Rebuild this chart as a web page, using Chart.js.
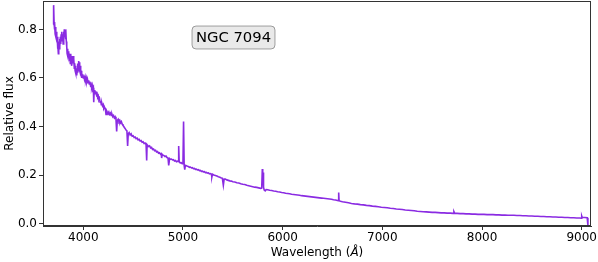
<!DOCTYPE html>
<html><head><meta charset="utf-8">
<script src="https://cdn.jsdelivr.net/npm/chart.js@4"></script>
<style>html,body{margin:0;padding:0;background:#fff}#wrap{width:598px;height:262px;position:relative}</style>
</head><body><div id="wrap"><canvas id="c" width="598" height="262"></canvas></div>
<script>
// ---- data ----
const wavelength = [
3698,3701,3704,3707,3710,3714,3718,3722,3726,3730,3734,3738,3742,3746,3750,3754,3758,3762,3766,3770,
3774,3778,3782,3786,3790,3794,3798,3802,3806,3810,3814,3818,3822,3826,3830,3834,3838,3842,3846,3850,
3854,3858,3862,3866,3870,3874,3878,3882,3886,3890,3894,3898,3902,3906,3910,3914,3918,3922,3926,3930,
3934,3938,3942,3946,3950,3954,3958,3962,3966,3970,3974,3978,3982,3986,3990,3995,4000,4006,4012,4018,
4024,4030,4036,4042,4048,4054,4060,4066,4072,4078,4084,4090,4096,4101,4105,4109,4115,4121,4127,4133,
4139,4145,4151,4157,4163,4169,4175,4181,4187,4193,4200,4206,4212,4222,4228,4234,4240,4248,4256,4264,
4272,4280,4288,4296,4304,4312,4320,4328,4335,4341,4350,4358,4366,4374,4382,4390,4398,4406,4414,4422,
4430,4438,4445,4451,4460,4470,4480,4490,4500,4510,4520,4530,4540,4550,4560,4570,4580,4590,4600,4610,
4620,4630,4636,4640,4645,4655,4665,4675,4685,4695,4705,4715,4725,4735,4745,4755,4765,4775,4782,4786,
4792,4800,4810,4820,4830,4840,4850,4857,4866,4875,4885,4895,4905,4915,4925,4935,4945,4952,4957,4962,
4972,4982,4992,5000,5006,5012,5018,5024,5035,5045,5055,5065,5075,5085,5095,5105,5115,5125,5135,5145,
5155,5165,5175,5185,5195,5205,5215,5225,5235,5245,5255,5265,5275,5285,5290,5296,5310,5325,5340,5355,
5370,5385,5395,5405,5413,5425,5440,5455,5470,5485,5500,5520,5540,5560,5580,5600,5620,5640,5660,5680,
5700,5720,5740,5760,5780,5790,5796,5800,5803,5808,5815,5825,5835,5850,5870,5890,5910,5930,5950,5970,
5990,6010,6030,6050,6070,6090,6110,6130,6150,6170,6190,6210,6230,6250,6270,6290,6310,6330,6350,6370,
6390,6410,6430,6450,6470,6490,6510,6530,6550,6558,6562,6566,6580,6600,6630,6660,6690,6720,6750,6780,
6810,6840,6870,6900,6930,6960,6990,7020,7050,7080,7110,7140,7170,7200,7230,7260,7290,7320,7350,7380,
7410,7440,7470,7500,7530,7560,7590,7620,7650,7680,7710,7718,7726,7750,7780,7810,7840,7870,7900,7930,
7960,7990,8020,8050,8080,8110,8140,8170,8200,8230,8260,8290,8320,8350,8380,8410,8440,8470,8500,8530,
8560,8590,8620,8650,8680,8710,8740,8770,8800,8830,8860,8890,8920,8950,8980,8995,9000,9005,9030,9055,
9062,9068];
const flux = [
0.82,0.84,0.90,0.83,0.80,0.83,0.78,0.81,0.77,0.79,0.75,0.77,0.72,0.74,0.70,0.75,0.72,0.76,0.73,0.77,
0.74,0.78,0.75,0.79,0.76,0.78,0.74,0.79,0.76,0.80,0.77,0.79,0.76,0.80,0.75,0.73,0.70,0.72,0.69,0.71,
0.68,0.70,0.67,0.69,0.66,0.70,0.67,0.69,0.65,0.68,0.66,0.69,0.66,0.68,0.64,0.66,0.63,0.65,0.62,0.64,
0.61,0.625,0.64,0.66,0.63,0.67,0.64,0.665,0.63,0.65,0.61,0.63,0.60,0.62,0.605,0.615,0.60,0.61,0.595,0.605,
0.59,0.60,0.585,0.595,0.58,0.59,0.575,0.585,0.57,0.575,0.56,0.57,0.555,0.56,0.50,0.545,0.55,0.535,0.545,0.53,
0.535,0.52,0.525,0.51,0.515,0.50,0.505,0.49,0.495,0.485,0.49,0.475,0.48,0.47,0.45,0.465,0.46,0.455,0.46,0.45,
0.455,0.445,0.45,0.44,0.445,0.435,0.44,0.43,0.38,0.425,0.43,0.42,0.425,0.415,0.42,0.41,0.405,0.40,0.395,0.39,
0.385,0.38,0.32,0.37,0.375,0.365,0.37,0.36,0.362,0.355,0.357,0.35,0.352,0.345,0.347,0.34,0.342,0.335,0.337,0.33,
0.332,0.326,0.26,0.325,0.322,0.318,0.32,0.312,0.314,0.305,0.307,0.30,0.302,0.295,0.297,0.29,0.292,0.286,0.288,0.27,
0.285,0.282,0.28,0.276,0.278,0.272,0.27,0.24,0.268,0.265,0.266,0.262,0.263,0.258,0.26,0.255,0.257,0.256,0.32,0.254,
0.25,0.251,0.247,0.248,0.42,0.24,0.222,0.24,0.238,0.236,0.235,0.232,0.233,0.229,0.23,0.226,0.227,0.223,0.224,0.221,
0.222,0.218,0.219,0.215,0.216,0.213,0.214,0.21,0.211,0.208,0.209,0.205,0.206,0.203,0.192,0.203,0.20,0.198,0.196,0.193,
0.191,0.188,0.187,0.158,0.183,0.183,0.18,0.178,0.176,0.175,0.172,0.171,0.168,0.167,0.164,0.162,0.161,0.158,0.156,0.154,
0.152,0.15,0.149,0.147,0.145,0.146,0.225,0.19,0.21,0.15,0.138,0.135,0.14,0.139,0.137,0.136,0.134,0.133,0.131,0.13,
0.128,0.127,0.125,0.124,0.123,0.121,0.12,0.119,0.118,0.117,0.115,0.114,0.113,0.112,0.111,0.11,0.109,0.108,0.107,0.106,
0.105,0.104,0.103,0.102,0.101,0.10,0.098,0.097,0.095,0.094,0.128,0.094,0.092,0.09,0.088,0.086,0.083,0.081,0.080,0.078,
0.077,0.075,0.074,0.072,0.071,0.069,0.067,0.066,0.065,0.063,0.062,0.060,0.059,0.058,0.056,0.055,0.054,0.053,0.051,0.050,
0.049,0.048,0.047,0.046,0.046,0.045,0.044,0.044,0.043,0.043,0.042,0.049,0.042,0.042,0.041,0.041,0.040,0.040,0.039,0.039,
0.038,0.038,0.038,0.037,0.037,0.037,0.036,0.036,0.035,0.035,0.034,0.034,0.034,0.033,0.033,0.032,0.032,0.031,0.031,0.030,
0.030,0.029,0.029,0.028,0.028,0.027,0.027,0.026,0.026,0.025,0.025,0.024,0.024,0.023,0.023,0.022,0.031,0.025,0.025,0.024,
-0.008,-0.008];
const xTicks = [4000,5000,6000,7000,8000,9000];
const yTicks = [0.0,0.2,0.4,0.6,0.8];
const objectName = 'NGC 7094';
const yTitle = 'Relative flux';
const xTitleMain = 'Wavelength (';
const xTitleUnit = 'Å';
const xTitleEnd = ')';

const FONT = "'DejaVu Sans', sans-serif";
const points = wavelength.map((w,i)=>({x:w,y:flux[i]}));

const decor = {
  id:'decor',
  afterDraw(chart){
    const ctx = chart.ctx, a = chart.chartArea;
    ctx.save();
    ctx.strokeStyle = '#333'; ctx.lineWidth = 1;
    ctx.strokeRect(a.left+0.5, a.top+0.5, a.right-a.left-1, a.bottom-a.top-1);
    ctx.fillStyle = '#000';
    ctx.font = '12px ' + FONT;
    ctx.textAlign = 'center'; ctx.textBaseline = 'middle';
    ctx.translate(10, (a.top+a.bottom)/2);
    ctx.rotate(-Math.PI/2);
    ctx.fillText(yTitle, 0, 0);
    ctx.restore();
    ctx.save();
    ctx.fillStyle = '#000'; ctx.textBaseline = 'middle'; ctx.textAlign = 'left';
    const fN = '12px ' + FONT, fI = 'italic 12px ' + FONT;
    ctx.font = fN; const w1 = ctx.measureText(xTitleMain).width, w3 = ctx.measureText(xTitleEnd).width;
    ctx.font = fI; const w2 = ctx.measureText(xTitleUnit).width;
    let x0 = (a.left+a.right)/2 - (w1+w2+w3)/2; const yT = 253;
    ctx.font = fN; ctx.fillText(xTitleMain, x0, yT);
    ctx.font = fI; ctx.fillText(xTitleUnit, x0+w1, yT);
    ctx.font = fN; ctx.fillText(xTitleEnd, x0+w1+w2, yT);
    ctx.restore();
    ctx.save();
    const bx=192, by=26, bw=83, bh=23, r=4;
    ctx.beginPath();
    ctx.moveTo(bx+r,by); ctx.lineTo(bx+bw-r,by); ctx.quadraticCurveTo(bx+bw,by,bx+bw,by+r);
    ctx.lineTo(bx+bw,by+bh-r); ctx.quadraticCurveTo(bx+bw,by+bh,bx+bw-r,by+bh);
    ctx.lineTo(bx+r,by+bh); ctx.quadraticCurveTo(bx,by+bh,bx,by+bh-r);
    ctx.lineTo(bx,by+r); ctx.quadraticCurveTo(bx,by,bx+r,by); ctx.closePath();
    ctx.fillStyle = 'rgba(211,211,211,0.5)'; ctx.fill();
    ctx.strokeStyle = 'rgba(0,0,0,0.35)'; ctx.lineWidth = 1; ctx.stroke();
    ctx.fillStyle = '#000'; ctx.font = '14.8px ' + FONT;
    ctx.textAlign='center'; ctx.textBaseline='middle';
    ctx.fillText(objectName, bx+bw/2, by+bh/2+0.5);
    ctx.restore();
  }
};

const noPad = (s)=>{ s.paddingTop=0; s.paddingBottom=0; s.paddingLeft=0; s.paddingRight=0; };

new Chart(document.getElementById('c'), {
  type:'line',
  data:{datasets:[{data:points, borderColor:'#8a2be2', borderWidth:1.6, pointRadius:0, tension:0, fill:false}]},
  options:{
    responsive:false, animation:false, devicePixelRatio:1,
    layout:{padding:{left:0,right:7,top:1,bottom:0}},
    plugins:{legend:{display:false}, tooltip:{enabled:false}},
    scales:{
      x:{type:'linear', min:3596, max:9093,
        afterBuildTicks:(s)=>{s.ticks = xTicks.map(v=>({value:v}));},
        afterFit:(s)=>{s.height = 36; noPad(s);},
        ticks:{font:{family:FONT,size:12}, color:'#000', maxRotation:0, autoSkip:false, padding:1, callback:(v)=>String(v)},
        grid:{drawOnChartArea:false, drawTicks:true, tickLength:4, color:'#333'},
        border:{display:true, color:'#333'}},
      y:{type:'linear', min:-0.01, max:0.917,
        afterBuildTicks:(s)=>{s.ticks = yTicks.map(v=>({value:v}));},
        afterFit:(s)=>{s.width = 43; noPad(s);},
        ticks:{font:{family:FONT,size:12}, color:'#000', padding:2, callback:(v)=>v.toFixed(1)},
        grid:{drawOnChartArea:false, drawTicks:true, tickLength:4, color:'#333'},
        border:{display:true, color:'#333'}}
    }
  },
  plugins:[decor]
});
</script></body></html>
